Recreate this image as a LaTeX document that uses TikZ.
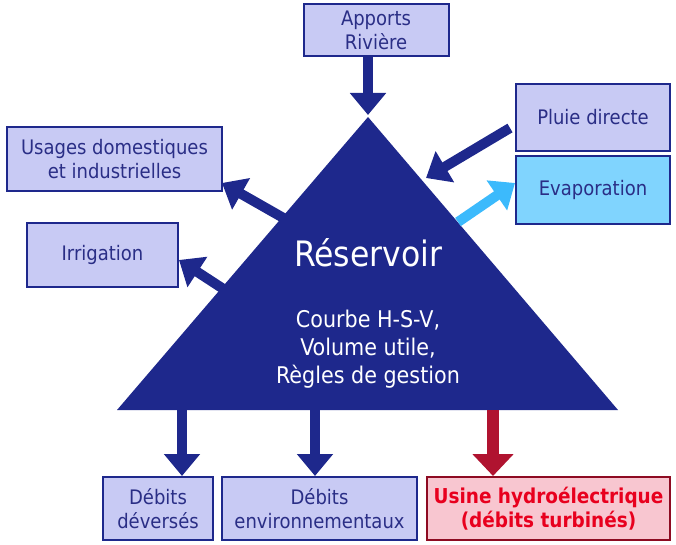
\documentclass[tikz,border=0pt]{standalone}
\usepackage{fontspec}
\setmainfont{DejaVu Sans Condensed}
\usetikzlibrary{positioning,arrows.meta}

\definecolor{resblue}{HTML}{1E288C}
\definecolor{boxfill}{HTML}{C8CAF4}
\definecolor{boxtext}{HTML}{2A2E86}
\definecolor{evapfill}{HTML}{80D4FE}
\definecolor{evaparrow}{HTML}{3CBAFC}
\definecolor{usinefill}{HTML}{F8C6D0}
\definecolor{usineline}{HTML}{8E0B22}
\definecolor{usinetext}{HTML}{E8001E}
\definecolor{usinearrow}{HTML}{B01330}

\begin{document}
\begin{tikzpicture}[
    x=1pt,y=-1pt,
    box/.style={
        rectangle,
        draw=resblue,
        line width=2pt,
        fill=boxfill,
        text=boxtext,
        inner sep=0pt,
        font=\fontsize{20}{24}\selectfont,
        align=center
      },
    arrow/.style={-{Triangle[length=22pt,width=35pt]},line width=10pt,draw=resblue}
    ]
    \useasboundingbox (0,0) rectangle (676,545);

    % reservoir triangle
    \coordinate (apex) at (368,117);
    \coordinate (baseL) at (117,410);
    \coordinate (baseR) at (618,410);
    \fill[resblue] (apex) -- (baseR) -- (baseL) -- cycle;
    \node[text=white,font=\fontsize{35}{40}\selectfont] (reservoir) at (368,253) {Réservoir};
    \node[text=white,font=\fontsize{23}{28}\selectfont,align=center,below=36pt of reservoir] (courbe) {Courbe H-S-V,\\Volume utile,\\Règles de gestion};

    % boxes
    \node[box,minimum width=145pt,minimum height=52pt] (apports) at (376,30) {Apports\\Rivière};
    \node[box,minimum width=154pt,minimum height=67pt] (pluie) at (593,117.5) {Pluie directe};
    \node[box,fill=evapfill,minimum width=154pt,minimum height=68pt] (evap) at (593,190) {Evaporation};
    \node[box,minimum width=215pt,minimum height=64pt] (usages) at (114.5,159) {Usages domestiques\\et industrielles};
    \node[box,minimum width=151pt,minimum height=64pt] (irrig) at (102.5,255) {Irrigation};
    \node[box,minimum width=110pt,minimum height=63pt] (deverses) at (158,508.5) {Débits\\déversés};
    \node[box,minimum width=195pt,minimum height=63pt] (environ) at (319.5,508.5) {Débits\\environnementaux};
    \node[box,draw=usineline,fill=usinefill,text=usinetext,font=\fontsize{20.5}{24}\selectfont\bfseries,minimum width=243pt,minimum height=63pt] (usine) at (548.5,508.5) {Usine hydroélectrique\\(débits turbinés)};

    % arrow ends on the triangle
    \coordinate (inRiv) at (368,115);
    \coordinate (inPluie) at (426,178);
    \coordinate (outEvap) at (458,222);
    \coordinate (outUsag) at (287,220);
    \coordinate (outIrr) at (225,290);
    \coordinate (outDev) at (182,410);
    \coordinate (outEnv) at (315,410);
    \coordinate (outUsi) at (493,410);

    \draw[arrow] (apports.south -| inRiv)--(inRiv);
    \draw[arrow] (510,128)--(inPluie);
    \draw[arrow,draw=evaparrow] (outEvap)--(evap.west |- 0,183);
    \draw[arrow] (outUsag)--(222,183);
    \draw[arrow] (outIrr)--(irrig.east |- 0,260);
    \draw[arrow] (outDev)--(outDev |- deverses.north);
    \draw[arrow] (outEnv)--(outEnv |- environ.north);
    \draw[arrow,draw=usinearrow,-{Triangle[length=22pt,width=40pt]},line width=12pt] (outUsi)--(outUsi |- usine.north);

  \end{tikzpicture}
\end{document}
